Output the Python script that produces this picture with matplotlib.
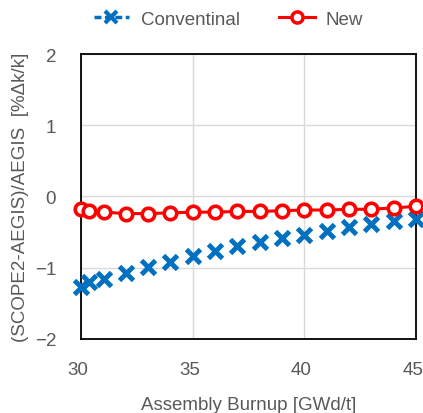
import matplotlib
matplotlib.use("Agg")
import matplotlib.pyplot as plt
import matplotlib.transforms as mtransforms
from matplotlib.lines import Line2D

burnup = [30.0, 30.35, 31, 32, 33, 34, 35, 36, 37, 38, 39, 40, 41, 42, 43, 44, 45]
conventional = [-1.27, -1.20, -1.16, -1.08, -0.99, -0.92, -0.84, -0.77, -0.70,
                -0.64, -0.59, -0.54, -0.49, -0.43, -0.39, -0.34, -0.31]
new = [-0.18, -0.21, -0.22, -0.24, -0.24, -0.23, -0.22, -0.22, -0.21,
       -0.21, -0.20, -0.19, -0.19, -0.18, -0.18, -0.16, -0.14]

xticks = [30, 35, 40, 45]
yticks = [-2, -1, 0, 1, 2]

grey = "#595959"
blue = "#0070C0"
red = "#FF0000"

plt.rcParams["font.family"] = ["Liberation Sans", "DejaVu Sans"]

fig = plt.figure(figsize=(4.23, 4.14), dpi=100)
ax = fig.add_axes([0.192, 0.179, 0.791, 0.688])

ax.plot(burnup, conventional, linestyle="none", marker="x", color=blue,
        markersize=9.5, markeredgewidth=3.5, clip_on=False, zorder=3)
ax.plot(burnup, new, color=red, linewidth=2.2, marker="o", markersize=9,
        markerfacecolor="white", markeredgecolor=red, markeredgewidth=2.6,
        clip_on=False, zorder=4)

ax.set_xlim(30, 45)
ax.set_ylim(-2, 2)
ax.set_xticks(xticks)
ax.set_yticks(yticks)
ax.grid(True, color="#d9d9d9", linewidth=1)
ax.set_axisbelow(True)
ax.tick_params(length=0, labelsize=13.5, colors=grey)
ax.tick_params(axis="x", pad=16)
ax.tick_params(axis="y", pad=18)
shift = mtransforms.ScaledTranslation(-3 / 100, 0, fig.dpi_scale_trans)
for lab in ax.get_xticklabels():
    lab.set_transform(lab.get_transform() + shift)
for s in ax.spines.values():
    s.set_color("black")
    s.set_linewidth(1.3)

ax.set_xlabel("Assembly Burnup [GWd/t]", fontsize=13.5, color=grey, labelpad=13)
ax.set_ylabel("(SCOPE2-AEGIS)/AEGIS  [%\u0394k/k]", fontsize=13.5, color=grey, labelpad=4)

handles = [
    Line2D([], [], color=blue, linestyle="--", dashes=(2, 1), linewidth=2.5,
           marker="x", markersize=8, markeredgewidth=3),
    Line2D([], [], color=red, linewidth=2.2, marker="o", markersize=8,
           markerfacecolor="white", markeredgewidth=2.5),
]
fig.legend(handles, ["Conventinal", "New"], loc="upper center",
           bbox_to_anchor=(0.54, 1.012), ncol=2, frameon=False, fontsize=13.5,
           labelcolor=grey, columnspacing=2.1, handlelength=1.9, handletextpad=0.6)

fig.savefig("out.png", dpi=100)
